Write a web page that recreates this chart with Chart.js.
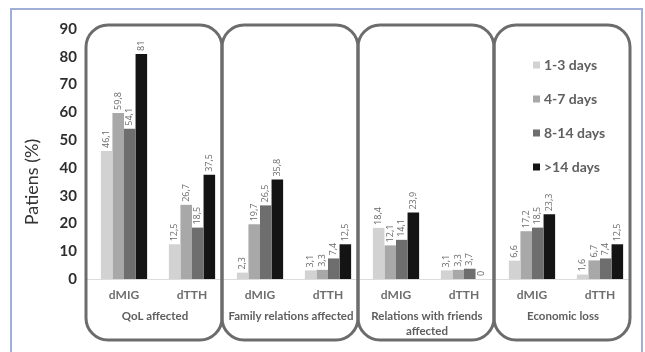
<!DOCTYPE html>
<html>
<head>
<meta charset="utf-8">
<style>
  html, body { margin: 0; padding: 0; background: #fff; }
  #wrap { position: relative; width: 645px; height: 352px; }
  #frame { position: absolute; left: 10px; top: 8px; width: 633px; height: 350px;
           border: 2px solid #9fb0d8; border-bottom: none; box-sizing: border-box; }
  canvas { position: absolute; left: 0; top: 0; }
</style>
<script src="https://cdn.jsdelivr.net/npm/chart.js@4.4.1/dist/chart.umd.min.js"></script>
</head>
<body>
<div id="wrap">
  <div id="frame"></div>
  <canvas id="chart" width="645" height="352"></canvas>
</div>
<script>
// data
const categories = ['dMIG', 'dTTH', 'dMIG', 'dTTH', 'dMIG', 'dTTH', 'dMIG', 'dTTH'];
const groupNames = ['QoL affected', 'Family relations affected', ['Relations with friends', 'affected'], 'Economic loss'];
const seriesNames = ['1-3 days', '4-7 days', '8-14 days', '>14 days'];
const days1to3  = [46.1, 12.5,  2.3,  3.1, 18.4, 3.1,  6.6,  1.6];
const days4to7  = [59.8, 26.7, 19.7,  3.3, 12.1, 3.3, 17.2,  6.7];
const days8to14 = [54.1, 18.5, 26.5,  7.4, 14.1, 3.7, 18.5,  7.4];
const daysOver14 = [81, 37.5, 35.8, 12.5, 23.9, 0, 23.3, 12.5];
const yMin = 0, yMax = 90, yStep = 10;
const yTitle = 'Patiens (%)';

const seriesColors = ['#d2d2d2', '#a8a8a8', '#6e6e6e', '#141414'];
const seriesData = [days1to3, days4to7, days8to14, daysOver14];

function fmt(v) { return String(v).replace('.', ','); }

const decor = {
  id: 'decor',
  beforeDatasetsDraw(chart) {
    const ctx = chart.ctx, x = chart.scales.x, y = chart.scales.y;
    const y0 = Math.round(y.getPixelForValue(0)) + 0.5;
    ctx.save();
    ctx.strokeStyle = '#dcdcdc';
    ctx.lineWidth = 1;
    ctx.beginPath();
    ctx.moveTo(x.left - 4, y0);
    ctx.lineTo(x.right - 4, y0);
    ctx.stroke();
    ctx.restore();
  },
  afterDraw(chart) {
    const ctx = chart.ctx, x = chart.scales.x, y = chart.scales.y;
    const step = (x.getPixelForValue(1) - x.getPixelForValue(0));
    ctx.save();

    // rounded group boxes
    ctx.strokeStyle = '#6c6c6c';
    ctx.lineWidth = 3;
    const top = 25, bottom = 340, r = 22;
    for (let g = 0; g < groupNames.length; g++) {
      const l = x.getPixelForValue(g * 2) - step / 2 - 4;
      const rr = x.getPixelForValue(g * 2 + 1) + step / 2 - 4;
      ctx.beginPath();
      ctx.roundRect(l, top, rr - l, bottom - top, r);
      ctx.stroke();
    }

    // group labels
    ctx.fillStyle = '#5e5e5e';
    ctx.font = 'bold 11.5px Lato';
    ctx.textAlign = 'center';
    ctx.textBaseline = 'middle';
    groupNames.forEach((name, g) => {
      const cx = (x.getPixelForValue(g * 2) + x.getPixelForValue(g * 2 + 1)) / 2 - 3;
      const lines = Array.isArray(name) ? name : [name];
      lines.forEach((t, i) => ctx.fillText(t, cx, 316 + i * 15));
    });

    // value labels
    ctx.font = '9px "Open Sans"';
    ctx.fillStyle = '#6a6a6a';
    ctx.textAlign = 'left';
    chart.data.datasets.forEach((ds, di) => {
      const meta = chart.getDatasetMeta(di);
      meta.data.forEach((el, i) => {
        ctx.save();
        ctx.translate(el.x, el.y - 3);
        ctx.rotate(-Math.PI / 2);
        ctx.fillText(fmt(ds.data[i]), 0, 0);
        ctx.restore();
      });
    });

    // legend
    ctx.font = 'bold 14px Lato';
    ctx.textBaseline = 'middle';
    const lx = x.getPixelForValue(6) - step / 2 + 35;
    seriesNames.forEach((name, i) => {
      const ly = 65 + i * 34;
      ctx.fillStyle = seriesColors[i];
      ctx.fillRect(lx, ly - 3.5, 7, 7);
      ctx.fillStyle = '#606060';
      ctx.fillText(name, lx + 11, ly);
    });

    // y title
    ctx.save();
    ctx.translate(32, 182);
    ctx.rotate(-Math.PI / 2);
    ctx.textAlign = 'center';
    ctx.font = '18px Lato';
    ctx.fillStyle = '#333';
    ctx.fillText(yTitle, 0, 0);
    ctx.restore();

    ctx.restore();
  }
};

new Chart(document.getElementById('chart'), {
  type: 'bar',
  data: {
    labels: categories,
    datasets: seriesNames.map((name, i) => ({
      label: name,
      data: seriesData[i],
      backgroundColor: seriesColors[i],
      borderWidth: 0,
      barPercentage: 1,
      categoryPercentage: 0.68
    }))
  },
  options: {
    responsive: false,
    animation: false,
    layout: { padding: { left: 11, top: 29, right: 11, bottom: 0 } },
    plugins: { legend: { display: false }, tooltip: { enabled: false } },
    scales: {
      x: {
        grid: { display: false, drawTicks: false },
        border: { display: false },
        ticks: { color: '#6e6e6e', font: { family: 'Lato', size: 12, weight: 'bold' }, padding: 9 },
        afterFit(scale) { scale.height = 73; }
      },
      y: {
        min: yMin, max: yMax,
        grid: { display: false, drawTicks: false },
        border: { display: false },
        ticks: { stepSize: yStep, color: '#2e2e2e', font: { family: 'Lato', size: 15, weight: 'bold' }, padding: 13 },
        afterFit(scale) { scale.width = 79; }
      }
    }
  },
  plugins: [decor]
});
</script>
</body>
</html>
